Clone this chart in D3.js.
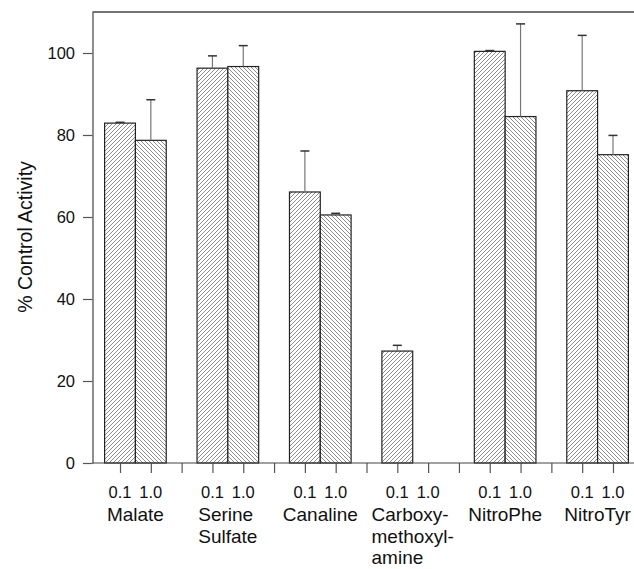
<!DOCTYPE html>
<html>
<head>
<meta charset="utf-8">
<script src="https://cdn.jsdelivr.net/npm/d3@7"></script>
<style>
  body { margin: 0; background: #fff; }
  text { font-family: "Liberation Sans", Arial, sans-serif; fill: #111; }
</style>
</head>
<body>
<div class="visuals"></div>
<script>
// values
const groups = ["Malate", "Serine\nSulfate", "Canaline", "Carboxy-\nmethoxyl-\namine", "NitroPhe", "NitroTyr"];
const doses = ["0.1", "1.0"];
const low = [82.9, 96.3, 66.1, 27.3, 100.4, 90.8];     // 0.1
const lowErr = [0.2, 3.0, 10.0, 1.4, 0.2, 13.5];
const high = [78.7, 96.7, 60.5, 0, 84.5, 75.2];        // 1.0
const highErr = [9.9, 5.1, 0.4, 0, 22.6, 4.7];
const yTicks = [0, 20, 40, 60, 80, 100];

const width = 634, height = 569;
const axisX = 92.5;

// each group takes 3 slots: 0.1, 1.0, gap
const x = d3.scaleLinear().domain([0, 18]).range([89.2, 643.8]);
const y = d3.scaleLinear().domain([0, 110]).range([463, 12]);
const slot = x(1) - x(0);

const svg = d3.select(".visuals")
  .append("svg")
  .attr("width", width)
  .attr("height", height);

// hatch patterns
const defs = svg.append("defs");
function hatch(id, dir) {
  const p = defs.append("pattern")
    .attr("id", id)
    .attr("patternUnits", "userSpaceOnUse")
    .attr("width", 4).attr("height", 4);
  p.append("rect").attr("width", 4).attr("height", 4).attr("fill", "#fff");
  const d = dir > 0
    ? "M-1,1 l2,-2 M0,4 l4,-4 M3,5 l2,-2"
    : "M-1,3 l2,2 M0,0 l4,4 M3,-1 l2,2";
  p.append("path").attr("d", d).attr("stroke", "#808080").attr("stroke-width", 0.9);
}
hatch("hUp", 1);
hatch("hDown", -1);

// flatten data to bars
let bars = [];
groups.forEach((g, i) => {
  bars.push({ pos: i * 3 + 1, v: low[i], e: lowErr[i], fill: "url(#hUp)" });
  bars.push({ pos: i * 3 + 2, v: high[i], e: highErr[i], fill: "url(#hDown)" });
});
bars = bars.filter(d => d.v > 0);

svg.selectAll("rect.bar")
  .data(bars)
  .enter()
  .append("rect")
  .attr("class", "bar")
  .attr("x", d => x(d.pos) - slot / 2)
  .attr("width", slot)
  .attr("y", d => y(d.v))
  .attr("height", d => y(0) - y(d.v))
  .attr("fill", d => d.fill)
  .attr("stroke", "#222")
  .attr("stroke-width", 1.2);

// error bars
const err = svg.append("g");
err.selectAll("line.stem")
  .data(bars)
  .enter()
  .append("line")
  .attr("x1", d => x(d.pos)).attr("x2", d => x(d.pos))
  .attr("y1", d => y(d.v)).attr("y2", d => y(d.v + d.e))
  .attr("stroke", "#777").attr("stroke-width", 1.2);
err.selectAll("line.cap")
  .data(bars)
  .enter()
  .append("line")
  .attr("x1", d => x(d.pos) - 4.5).attr("x2", d => x(d.pos) + 4.5)
  .attr("y1", d => y(d.v + d.e)).attr("y2", d => y(d.v + d.e))
  .attr("stroke", "#333").attr("stroke-width", 1.5);

// y axis
const yAxis = svg.append("g")
  .attr("transform", `translate(${axisX},0)`)
  .call(d3.axisLeft(y).tickValues(yTicks).tickSize(9.5).tickSizeOuter(0).tickPadding(8));
yAxis.select(".domain").attr("stroke", "#444").attr("stroke-width", 1.2);
yAxis.selectAll(".tick line").attr("stroke", "#555").attr("stroke-width", 1.2);
yAxis.selectAll(".tick text")
  .style("font-family", '"Liberation Sans", Arial, sans-serif')
  .style("font-size", "16.5px").attr("fill", "#111");

// top frame line
svg.append("line")
  .attr("x1", axisX).attr("x2", width)
  .attr("y1", y(110)).attr("y2", y(110))
  .attr("stroke", "#444").attr("stroke-width", 1.3);

// x axis
const xAxis = svg.append("g")
  .attr("transform", `translate(0,${y(0)})`)
  .call(d3.axisBottom(x).tickValues(d3.range(1, 18)).tickSize(10).tickFormat(""));
xAxis.select(".domain").remove();
xAxis.selectAll(".tick line").attr("stroke", "#555").attr("stroke-width", 1.2);
svg.append("line")
  .attr("x1", axisX).attr("x2", width)
  .attr("y1", y(0)).attr("y2", y(0))
  .attr("stroke", "#444").attr("stroke-width", 1.2);

// dose labels
groups.forEach((g, i) => {
  doses.forEach((d, j) => {
    svg.append("text")
      .attr("x", x(i * 3 + 1 + j))
      .attr("y", 498)
      .attr("text-anchor", "middle")
      .style("font-size", "16.5px")
      .text(d);
  });
});

// group labels: left-aligned lines, block centred on the pair
groups.forEach((g, i) => {
  const cx = (x(i * 3 + 1) + x(i * 3 + 2)) / 2;
  const t = svg.append("text")
    .attr("y", 521)
    .style("font-size", "19px");
  const lines = g.split("\n");
  const spans = lines.map((line, k) =>
    t.append("tspan").attr("dy", k === 0 ? 0 : 21.5).text(line));
  const w = d3.max(spans, s => s.node().getComputedTextLength());
  spans.forEach(s => s.attr("x", cx - w / 2));
});

// y label
svg.append("text")
  .attr("transform", `translate(32,237) rotate(-90)`)
  .attr("text-anchor", "middle")
  .style("font-size", "19.5px")
  .text("% Control Activity");
</script>
</body>
</html>
